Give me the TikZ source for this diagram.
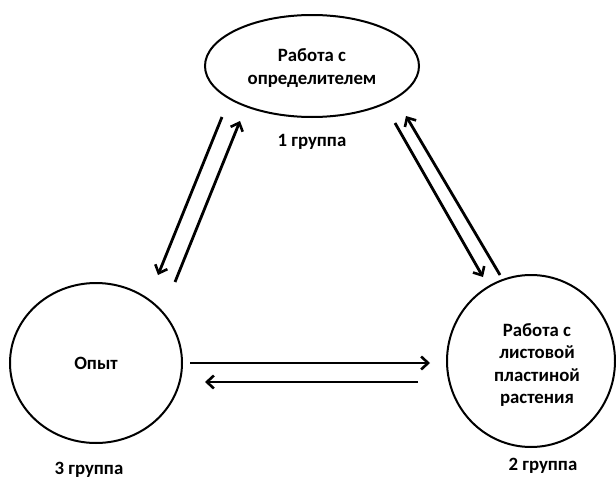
\documentclass[tikz,border=0pt]{standalone}
\usepackage{fontspec}
\setmainfont{Carlito}
\usetikzlibrary{arrows.meta}
\begin{document}
\begin{tikzpicture}[x=1pt,y=-1pt,
  shapebox/.style={draw=black,line width=2pt,inner sep=0pt},
  lbl/.style={font=\bfseries\fontsize{18.8}{22.4}\selectfont,align=center},
  flow/.style={line width=2.8pt,-{Straight Barb[length=7pt,width=13pt,line width=2.6pt]}}]
\useasboundingbox[fill=white] (0,0) rectangle (616,479);
% shapes
\draw[shapebox] (312,66) ellipse [x radius=107, y radius=51];
\draw[shapebox] (96,363) ellipse [x radius=86, y radius=80];
\draw[shapebox] (531,361) ellipse [x radius=84, y radius=86];
% texts
\node[lbl] (top) at (312,68) {Работа с\\определителем};
\node[lbl] (left) at (96,363) {Опыт};
\node[lbl] (right) at (537,365) {Работа с\\листовой\\пластиной\\растения};
\node[lbl] (g1) at (312,142) {1 группа};
\node[lbl] (g3) at (89,470) {3 группа};
\node[lbl] (g2) at (543,466) {2 группа};
% arrow endpoints
\coordinate (a1s) at (222,117); \coordinate (a1e) at (158,275);
\coordinate (a2s) at (175,282); \coordinate (a2e) at (240,121);
\coordinate (b1s) at (395,123); \coordinate (b1e) at (483,277);
\coordinate (b2s) at (500,275); \coordinate (b2e) at (406,116);
\coordinate (c1s) at (190,363); \coordinate (c1e) at (430,363);
\coordinate (c2s) at (418,382); \coordinate (c2e) at (205,382);
\draw[flow] (a1s) -- (a1e);
\draw[flow] (a2s) -- (a2e);
\draw[flow] (b1s) -- (b1e);
\draw[flow] (b2s) -- (b2e);
\draw[flow] (c1s) -- (c1e);
\draw[flow] (c2s) -- (c2e);
\end{tikzpicture}
\end{document}
